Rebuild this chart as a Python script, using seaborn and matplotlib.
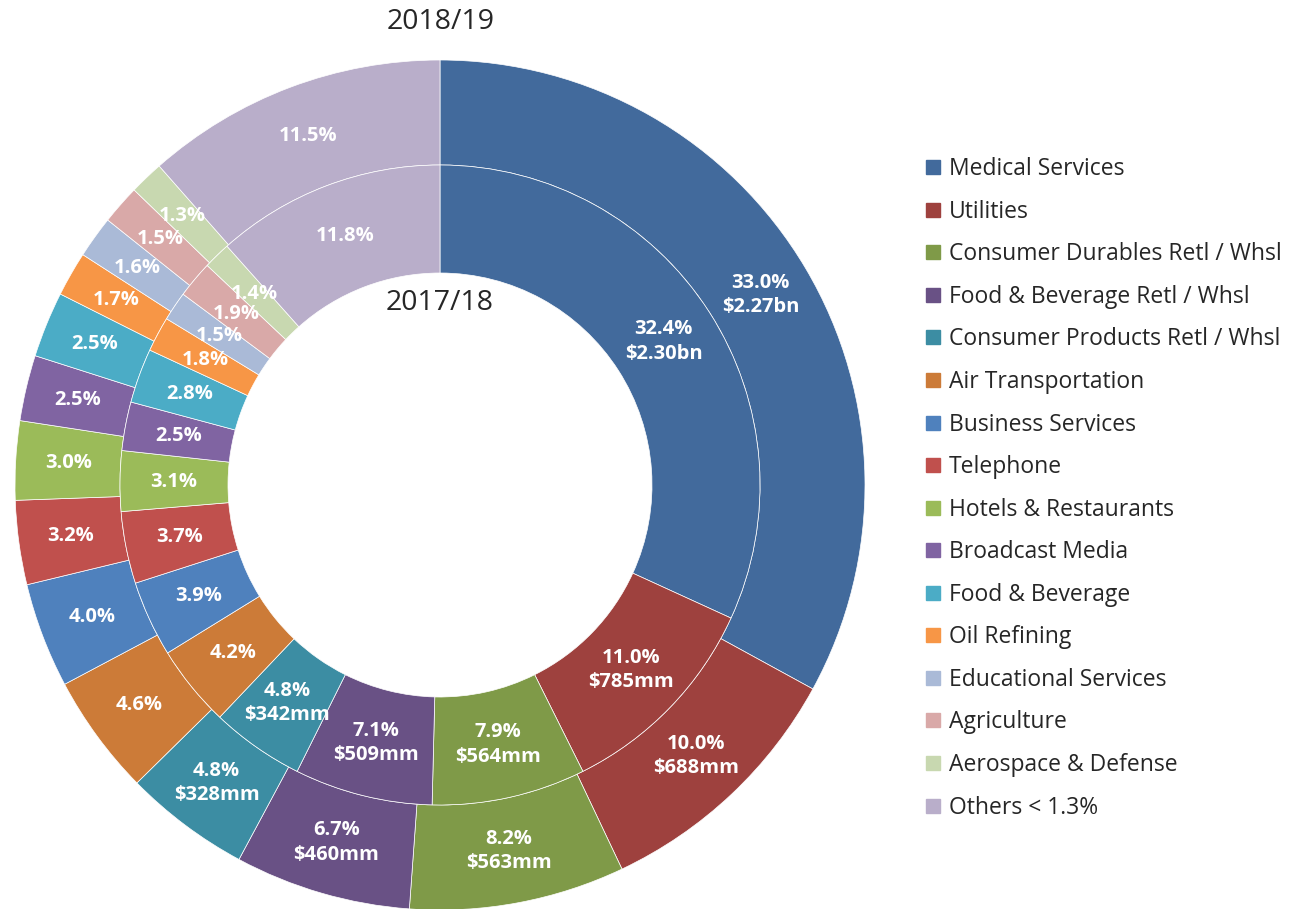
import numpy as np
import matplotlib
matplotlib.use("Agg")
import matplotlib.pyplot as plt
import seaborn as sns
from matplotlib.lines import Line2D

sectors = ["Medical Services", "Utilities", "Consumer Durables Retl / Whsl",
           "Food & Beverage Retl / Whsl", "Consumer Products Retl / Whsl",
           "Air Transportation", "Business Services", "Telephone",
           "Hotels & Restaurants", "Broadcast Media", "Food & Beverage",
           "Oil Refining", "Educational Services", "Agriculture",
           "Aerospace & Defense", "Others < 1.3%"]

# 2018/19 (outer ring)
pct_1819 = [33.0, 10.0, 8.2, 6.7, 4.8, 4.6, 4.0, 3.2, 3.0, 2.5, 2.5, 1.7, 1.6, 1.5, 1.3, 11.5]
amt_1819 = ["$2.27bn", "$688mm", "$563mm", "$460mm", "$328mm"]

# 2017/18 (inner ring)
pct_1718 = [32.4, 11.0, 7.9, 7.1, 4.8, 4.2, 3.9, 3.7, 3.1, 2.5, 2.8, 1.8, 1.5, 1.9, 1.4, 11.8]
amt_1718 = ["$2.30bn", "$785mm", "$564mm", "$509mm", "$342mm"]

colors = ["#426A9C", "#9E413E", "#7F9A48", "#695185", "#3C8DA3", "#CC7B38",
          "#4F81BD", "#C0504D", "#9BBB59", "#8064A2", "#4BACC6", "#F79646",
          "#AABAD7", "#D9A9A8", "#C8D8B0", "#B9AECA"]

sns.set_style("white")
plt.rcParams["font.family"] = ["Open Sans", "DejaVu Sans"]

fig = plt.figure(figsize=(12.92, 9.09), dpi=100)
ax = fig.add_axes([15 / 1292, -1 / 909, 850 / 1292, 850 / 909])

r_out, r_mid, r_in = 1.0, 320 / 425, 212 / 425


def ring(values, amounts, radius, width):
    wedges, _ = ax.pie(values, radius=radius, colors=colors, startangle=90,
                       counterclock=False,
                       wedgeprops=dict(width=width, edgecolor="white", linewidth=0.5))
    rl = radius - width / 2
    for i, w in enumerate(wedges):
        ang = np.deg2rad((w.theta1 + w.theta2) / 2)
        x, y = rl * np.cos(ang), rl * np.sin(ang)
        txt = f"{values[i]:.1f}%"
        if i < len(amounts):
            txt += "\n" + amounts[i]
        ax.text(x, y, txt, ha="center", va="center", color="white",
                fontsize=14.5, fontweight="bold", linespacing=1.3,
                family=["Open Sans", "DejaVu Sans"])


ring(pct_1819, amt_1819, r_out, r_out - r_mid)
ring(pct_1718, amt_1718, r_mid, r_mid - r_in)

ax.set_xlim(-1, 1)
ax.set_ylim(-1, 1)
ax.set_aspect("equal")
ax.axis("off")

fig.text(441 / 1292, 1 - 22 / 909, "2018/19", ha="center", va="center", fontsize=20.5)
fig.text(440 / 1292, 1 - 303 / 909, "2017/18", ha="center", va="center", fontsize=20.5)

handles = [Line2D([], [], marker="s", linestyle="", markersize=10,
                  markerfacecolor=c, markeredgecolor=c) for c in colors]
fig.legend(handles, sectors, loc="upper left", bbox_to_anchor=(916 / 1292, 1 - 148 / 909),
           frameon=False, fontsize=16.5, handlelength=0.7, handletextpad=0.35,
           labelspacing=0.81, borderaxespad=0)

fig.savefig("out.png", dpi=100)
